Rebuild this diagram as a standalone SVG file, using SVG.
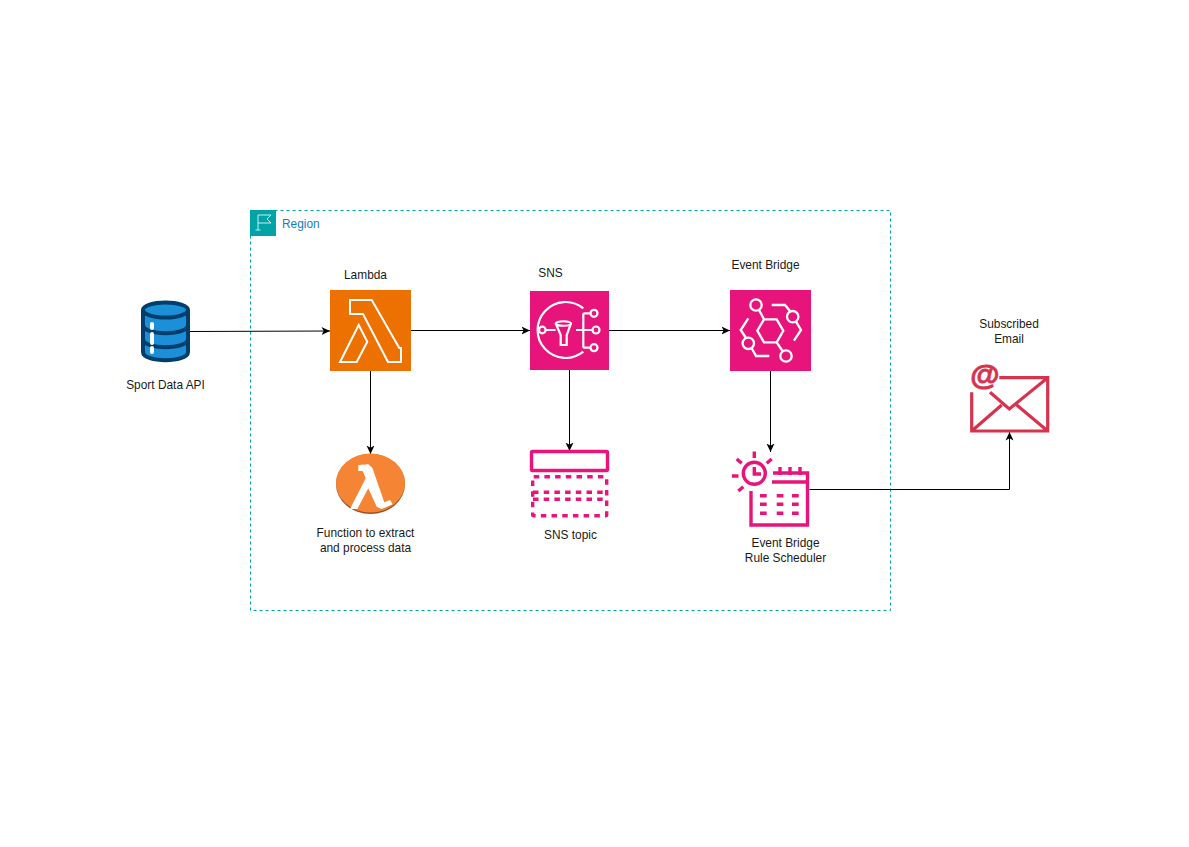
<svg xmlns="http://www.w3.org/2000/svg" width="1189" height="847" viewBox="0 0 1189 847">
<style>
text{font-family:"Liberation Sans",Arial,sans-serif;font-size:11.9px;fill:#1a1a1a;text-anchor:middle}
.conn{fill:none;stroke:#000;stroke-width:1;marker-end:url(#arrow)}
.wl{fill:none;stroke:#fff;stroke-width:2;stroke-linejoin:miter}
.wc{fill:none;stroke:#fff;stroke-width:2.2}
.pk{fill:none;stroke:#E7157B;stroke-width:3.4}
.em{fill:none;stroke:#D6334F;stroke-width:3.2}
</style>
<defs>
<marker id="arrow" markerUnits="userSpaceOnUse" markerWidth="10" markerHeight="9" refX="8.5" refY="4.5" orient="auto">
<path d="M8.5,4.5 L0,0.5 L2.2,4.5 L0,8.5 Z" fill="#000"/>
</marker>
</defs>
<rect width="1189" height="847" fill="#fff"/>
<g id="region">
<rect x="250.5" y="210.5" width="640" height="400" fill="none" stroke="#00A4A6" stroke-width="1" stroke-dasharray="3 3"/>
<rect x="250" y="210" width="26" height="26" fill="#00A4A6"/>
<path d="M258,215 V230 M255.5,230 H260.5 M258,215 H271 L267,219 L271,223 H258" fill="none" stroke="#fff" stroke-width="0.8"/>
<text x="282" y="228" style="text-anchor:start;fill:#147EBA">Region</text>
</g>
<g id="connectors">
<path class="conn" d="M190,331.5 L330,331"/>
<path class="conn" d="M411,330.5 H530"/>
<path class="conn" d="M609,330.5 H730"/>
<path class="conn" d="M370.5,371 V454"/>
<path class="conn" d="M569.5,370 V451"/>
<path class="conn" d="M770.5,371 V452"/>
<path class="conn" d="M809.5,489.5 H1009.5 V432"/>
</g>
<g id="sport-data-api">
<path d="M143,310 V352 C143,363 188,363 188,352 V310" fill="#1B8FD8" stroke="#003F6C" stroke-width="4"/>
<ellipse cx="165.5" cy="310" rx="22.5" ry="7.5" fill="#1B8FD8" stroke="#003F6C" stroke-width="4"/>
<path d="M143,325 C143,336 188,336 188,325 M143,339 C143,350 188,350 188,339" fill="none" stroke="#003F6C" stroke-width="4"/>
<path d="M152,324 V328 M152,334 V343 M152,348 V352" stroke="#fff" stroke-width="4" stroke-linecap="round"/>
<text x="165.5" y="389">Sport Data API</text>
</g>
<g id="lambda">
<rect x="330" y="290" width="81" height="81" fill="#ED7100"/>
<path class="wl" d="M350,300 H371.7 L399.3,348 H401 V362 H388 L363,314 H350 Z"/>
<path class="wl" d="M358.7,325 L367.3,341.7 L356.7,362 H340 Z"/>
<text x="365.5" y="279">Lambda</text>
</g>
<g id="sns">
<rect x="530" y="291" width="79" height="79" fill="#E7157B"/>
<path class="wc" d="M583.3,308.3 A28,28 0 1 0 583.3,351.7"/>
<path class="wc" d="M545.5,330 H555.5 M576,330 H592.5 M583.3,313.3 V347.7 M583.3,313.3 H590.5 M583.3,347.7 H590.5"/>
<circle cx="542.3" cy="330" r="3.3" fill="#E7157B" stroke="#fff" stroke-width="2.2"/>
<path class="wc" d="M555.7,323.5 C557,320.5 570,320.5 571,323.5 L566.7,335 V345 H560.7 V335 Z M555.7,323.5 C557,326.5 570,326.5 571,323.5"/>
<circle class="wc" cx="594" cy="313.3" r="3.5"/>
<circle class="wc" cx="596" cy="330" r="3.5"/>
<circle class="wc" cx="594" cy="347.7" r="3.5"/>
<text x="550.5" y="277">SNS</text>
</g>
<g id="event-bridge">
<rect x="730" y="290" width="81" height="81" fill="#E7157B"/>
<g style="fill:none;stroke:#fff;stroke-width:2.3">
<path d="M764,319.3 H776.7 L783.3,330.7 L776.7,342.3 H764 L757.3,330.7 Z"/>
<path d="M759,310 L764,319.3 M776.7,342.3 L782.5,351"/>
<path d="M771.7,305 H785 L790,311 M796,321.7 L801,330 L794,340.7"/>
<path d="M748.3,318.3 L740.7,330 L746,338 M751.7,348.3 L756,356 H769.3"/>
<circle cx="756" cy="305" r="5.7"/>
<circle cx="792.7" cy="316.7" r="5.7"/>
<circle cx="748.3" cy="343.3" r="5.7"/>
<circle cx="786" cy="356" r="5.7"/>
</g>
<text x="765.5" y="269">Event Bridge</text>
</g>
<g id="lambda-function">
<ellipse cx="370.5" cy="484" rx="34.5" ry="30" fill="#9D5025"/>
<ellipse cx="370.5" cy="483" rx="34.5" ry="29.5" fill="#F58534"/>
<path d="M358.3,465 L368.3,464.3 L372.3,467.7 L384.3,502.3 L390,500 L392.7,504.3 L381.7,509 L376.7,506.7 L368.3,488.3 L357.3,509 H350 L365.7,478.3 L362.7,471 H358.3 Z" fill="#fff"/>
<text x="365.5" y="537">Function to extract</text>
<text x="365.5" y="552">and process data</text>
</g>
<g id="sns-topic">
<rect class="pk" x="531.5" y="451.5" width="76" height="19" rx="1"/>
<rect class="pk" x="532.7" y="476.7" width="74" height="39" rx="1" stroke-dasharray="5.5 5.2"/>
<path class="pk" d="M533,492.3 H607 M533,499.3 H607" stroke-dasharray="5.5 5.2"/>
<text x="570.5" y="539">SNS topic</text>
</g>
<g id="rule-scheduler">
<circle class="pk" cx="754.3" cy="473.3" r="11"/>
<path class="pk" d="M754.3,467 V474 H761 M754.3,451.5 V458 M732,476 H738.5 M736.7,459 L741.7,463.3 M771.7,459 L766.7,463.3 M738.3,491 L743.3,486.7"/>
<path class="pk" d="M773,473 H807.5 V525 H751 V491 M772,482 H807.5 M780,467 V475 M790,467 V475 M800,467 V475"/>
<path class="pk" d="M760,495.7 H766.7 M776.7,495.7 H783.4 M792,495.7 H798.7 M760,504.3 H766.7 M776.7,504.3 H783.4 M792,504.3 H798.7 M760,513.3 H766.7 M776.7,513.3 H783.4 M792,513.3 H798.7"/>
<text x="785.5" y="547">Event Bridge</text>
<text x="785.5" y="562">Rule Scheduler</text>
</g>
<g id="subscribed-email">
<path class="em" d="M999.3,377.7 H1047.7 V431 H971.7 V392.3 M990,392.3 L1009.3,409 L1047.7,377.7 M971.7,431 L1001.7,405 M1047.7,431 L1016.7,405"/>
<text x="985" y="385" style="font-size:30px;font-weight:bold;fill:#D6334F;stroke:#D6334F;stroke-width:0.9">@</text>
<text x="1009" y="328">Subscribed</text>
<text x="1009" y="343">Email</text>
</g>
</svg>
